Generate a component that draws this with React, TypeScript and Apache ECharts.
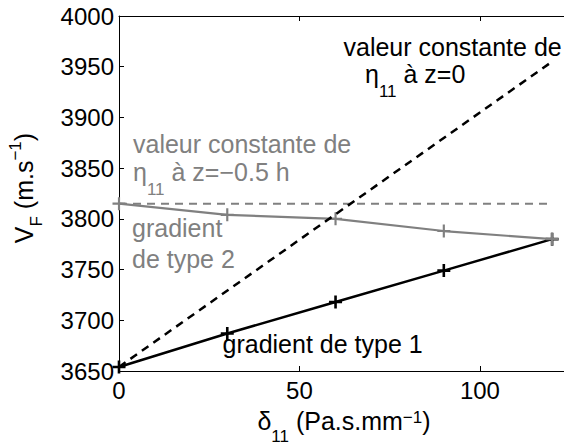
import React, { useEffect, useRef } from "react";
import * as echarts from "echarts";

// ---- data ----
const deltaValues = [0, 30, 60, 90, 120];
const gradientType1 = [3654, 3687, 3718, 3749, 3780];
const gradientType2 = [3815, 3804, 3800, 3788, 3780];
const constZ0X = [0, 120];
const constZ0Y = [3654, 3955];
const constHalfX = [0, 120];
const constHalfY = [3815, 3815];
const xTicks = [0, 50, 100];
const yMin = 3650;
const yMax = 4000;
const yStep = 50;
const xStep = 50;

const FONT = "'Liberation Sans', Arial, Helvetica, sans-serif";
const GRAY = "#808080";
const BLACK = "#000000";

const L = 60; // rich line height
const MAIN = 25;
const SMALL = 17;
const CENTRAL = 0.3465 * MAIN;

function richFor(color: string, subDown: number, supUp: number) {
  const d = subDown + (CENTRAL - 0.3465 * SMALL);
  const u = Math.max(0, supUp - (CENTRAL - 0.3465 * SMALL));
  return {
    m: { fontSize: MAIN, lineHeight: L, fontFamily: FONT, fill: color, color },
    s: { fontSize: SMALL, lineHeight: SMALL, fontFamily: FONT, fill: color, color, padding: [2 * d, 0, 0, 0] },
    p: { fontSize: SMALL, lineHeight: SMALL, fontFamily: FONT, fill: color, color, padding: [0, 0, 2 * u, 0] },
  };
}

function txt(x: number, baseline: number, text: string, color: string, opts: any = {}) {
  const rich = richFor(color, opts.subDown ?? 14, opts.supUp ?? 4);
  return {
    type: "text",
    x,
    y: baseline - L / 2 - CENTRAL,
    z: 100,
    style: {
      text,
      rich,
      fill: color,
      font: `${MAIN}px ${FONT}`,
      align: opts.align ?? "left",
      textAlign: opts.align ?? "left",
      verticalAlign: "top",
      textVerticalAlign: "top",
    },
  };
}

const plusPath = (t: number) =>
  `path://M${-t},-6L${t},-6L${t},${-t}L6,${-t}L6,${t}L${t},${t}L${t},6L${-t},6L${-t},${t}L-6,${t}L-6,${-t}L${-t},${-t}Z`;

export default function App() {
  const ref = useRef<HTMLDivElement>(null);
  useEffect(() => {
    if (!ref.current) return;
    const chart = echarts.init(ref.current, null, { renderer: "svg" });
    const pairs = (xs: number[], ys: number[]) => xs.map((x, i) => [x, ys[i]]);
    const xAxisCommon = {
      type: "value",
      min: 0,
      max: 123.3,
      interval: xStep,
      splitLine: { show: false },
      axisLine: { show: true, onZero: false, lineStyle: { color: BLACK, width: 1 } },
      axisTick: { show: true, inside: true, length: 5, lineStyle: { color: BLACK, width: 1 } },
    };
    chart.setOption({
      animation: false,
      backgroundColor: "#ffffff",
      grid: { left: 119, right: 0, top: 16, bottom: 77, containLabel: false },
      xAxis: [
        {
          ...xAxisCommon,
          position: "bottom",
          axisLabel: {
            show: true,
            color: BLACK,
            fontSize: 24,
            fontFamily: FONT,
            margin: 7,
            showMaxLabel: false,
            formatter: (v: number) => (xTicks.includes(v) ? String(v) : ""),
          },
        },
        {
          ...xAxisCommon,
          position: "top",
          axisLabel: { show: false },
        },
      ],
      yAxis: {
        type: "value",
        min: yMin,
        max: yMax,
        interval: yStep,
        splitLine: { show: false },
        axisLine: { show: true, lineStyle: { color: BLACK, width: 1 } },
        axisTick: { show: true, inside: true, length: 5, lineStyle: { color: BLACK, width: 1 } },
        axisLabel: {
          color: BLACK,
          fontSize: 24,
          fontFamily: FONT,
          margin: 5,
          formatter: (v: number) => String(v),
        },
      },
      series: [
        {
          type: "line",
          data: pairs(constHalfX, constHalfY),
          symbol: "none",
          lineStyle: { color: GRAY, width: 2, type: [8, 6] },
          z: 2,
        },
        {
          type: "line",
          data: pairs(deltaValues, gradientType1),
          symbol: plusPath(1.2),
          symbolSize: 13,
          showAllSymbol: true,
          itemStyle: { color: BLACK, borderWidth: 0 },
          lineStyle: { color: BLACK, width: 2.5 },
          z: 3,
        },
        {
          type: "line",
          data: pairs(deltaValues, gradientType2),
          symbol: plusPath(1),
          symbolSize: 13,
          showAllSymbol: true,
          itemStyle: { color: GRAY, borderWidth: 0 },
          lineStyle: { color: GRAY, width: 2.2 },
          z: 4,
        },
        {
          type: "line",
          data: pairs(constZ0X, constZ0Y),
          symbol: "none",
          lineStyle: { color: BLACK, width: 2.5, type: [8, 6] },
          z: 5,
        },
      ],
      graphic: [
        txt(343.5, 56, "{m|valeur constante de}", BLACK),
        txt(365, 83, "{m|\u03b7}{s|11}{m| \u00e0 z=0}", BLACK),
        txt(133, 153, "{m|valeur constante de}", GRAY),
        txt(133, 181, "{m|\u03b7}{s|11}{m| \u00e0 z=\u22120.5 h}", GRAY),
        txt(132, 237, "{m|gradient}", GRAY),
        txt(132, 267.5, "{m|de type 2}", GRAY),
        txt(222.5, 353, "{m|gradient de type 1}", BLACK),
        txt(344, 430, "{m|\u03b4}{s|11}{m| (Pa.s.mm}{p|\u22121}{m|)}", BLACK, { align: "center", subDown: 12, supUp: 7 }),
        {
          ...txt(0, 0, "{m|V}{s|F}{m| (m.s}{p|\u22121}{m|)}", BLACK, { align: "center", subDown: 9, supUp: 12 }),
          x: 33 - L / 2 - CENTRAL,
          y: 188,
          rotation: Math.PI / 2,
        },
      ],
    });
    return () => chart.dispose();
  }, []);
  return (
    <div
      ref={ref}
      style={{ position: "fixed", left: 0, top: 0, width: 564, height: 448, background: "#fff" }}
    />
  );
}
